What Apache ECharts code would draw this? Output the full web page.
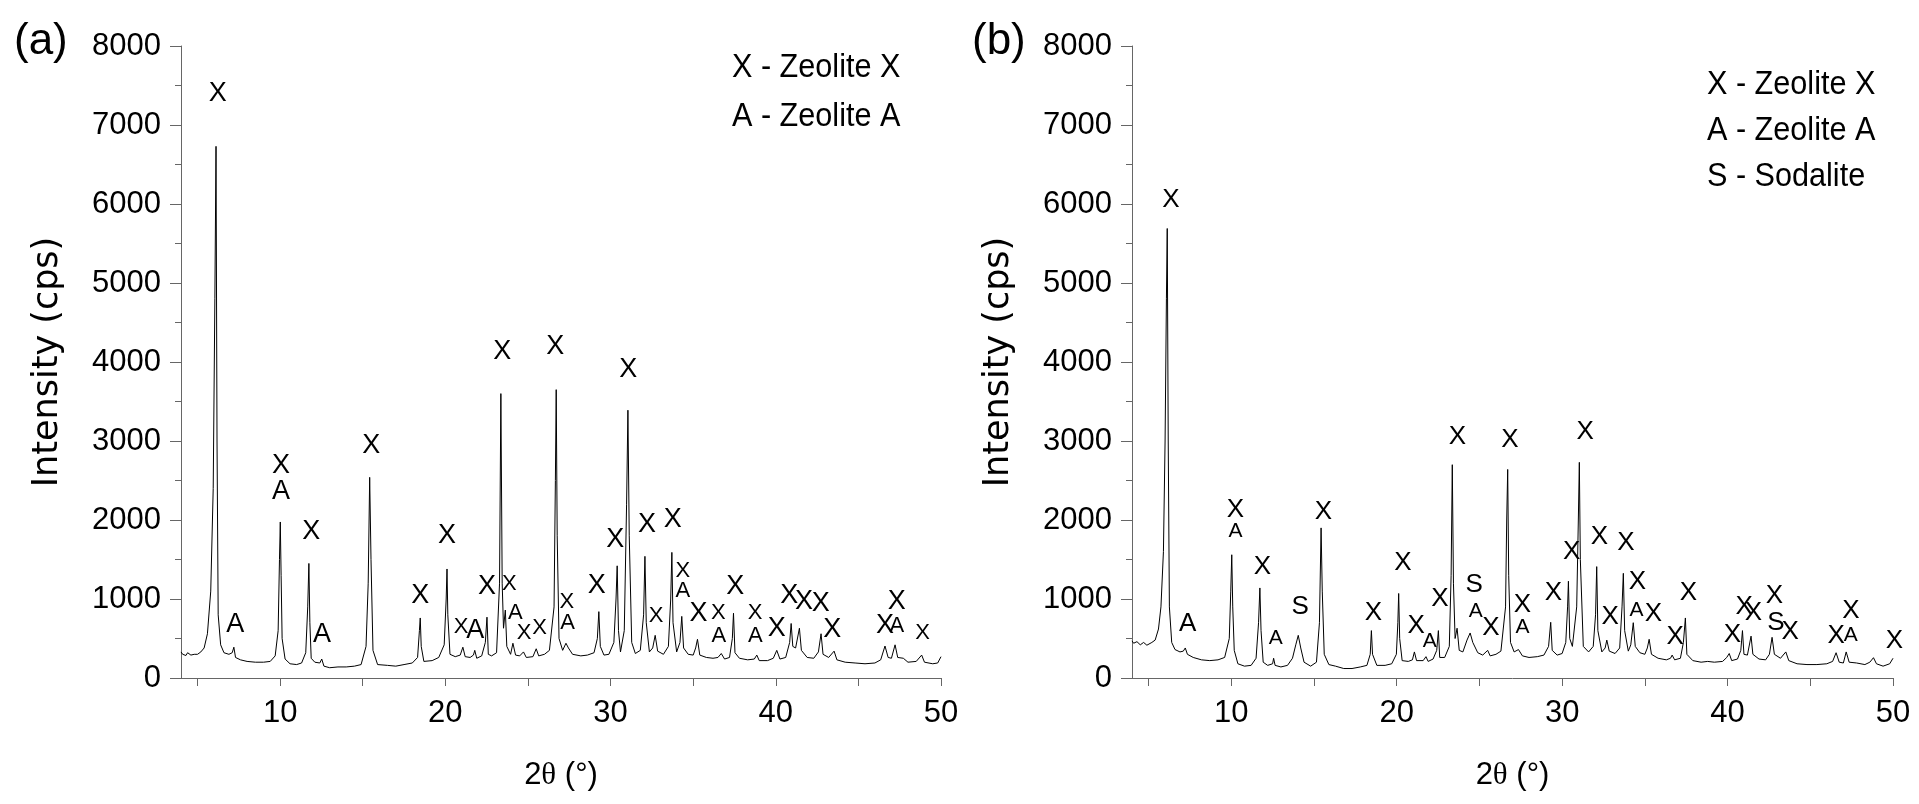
<!DOCTYPE html>
<html>
<head>
<meta charset="utf-8">
<title>XRD patterns</title>
<script src="https://cdn.jsdelivr.net/npm/echarts@6/dist/echarts.min.js"></script>
<style>
  html, body { margin: 0; padding: 0; background: #fff; }
  #chart { width: 1919px; height: 804px; }
</style>
</head>
<body>
<div id="chart"></div>
<script>
// pattern (a): [2theta, intensity]
const patternA = [
  [4.0, 330], [4.1, 300], [4.2, 310], [4.3, 285], [4.4, 320], [4.5, 295], [4.6, 290], [4.7, 315],
  [4.8, 300], [4.9, 320], [5.0, 300], [5.2, 330], [5.4, 380],
  [5.6, 560], [5.8, 1100], [5.95, 2400], [6.05, 4800], [6.12, 6730], [6.18, 3000], [6.25, 800],
  [6.4, 420], [6.6, 320], [6.9, 300], [7.1, 320], [7.2, 390], [7.3, 260], [7.6, 230], [8.0, 210],
  [8.5, 200], [9.0, 200], [9.4, 210], [9.7, 280], [9.88, 600], [9.96, 1500], [10.01, 1975],
  [10.06, 1300], [10.12, 500], [10.3, 240], [10.6, 180], [11.0, 170], [11.3, 190], [11.55, 320],
  [11.67, 900], [11.74, 1450], [11.8, 700], [11.88, 250], [12.1, 200], [12.4, 190], [12.52, 240],
  [12.65, 150], [13.0, 130], [13.5, 140], [14.0, 140], [14.5, 150], [14.9, 170], [15.2, 400],
  [15.33, 1200], [15.42, 2540], [15.5, 1500], [15.62, 350], [15.9, 170], [16.5, 160], [17.0, 150],
  [17.5, 170], [18.0, 190], [18.32, 260], [18.43, 600], [18.48, 760], [18.54, 400], [18.7, 210],
  [19.2, 220], [19.6, 260], [19.93, 420], [20.05, 1000], [20.1, 1380], [20.15, 800], [20.28, 300],
  [20.6, 270], [20.9, 290], [21.06, 390], [21.2, 270], [21.5, 260], [21.7, 290], [21.78, 350],
  [21.9, 250], [22.2, 280], [22.42, 450], [22.52, 770], [22.6, 300], [22.8, 280], [23.1, 320],
  [23.28, 1200], [23.36, 3600], [23.44, 1200], [23.52, 630], [23.63, 860], [23.72, 400],
  [23.95, 300], [24.09, 440], [24.25, 290], [24.5, 280], [24.73, 330], [24.9, 260], [25.3, 270],
  [25.5, 370], [25.65, 280], [26.0, 300], [26.3, 350], [26.58, 900], [26.66, 2500], [26.71, 3650],
  [26.77, 1800], [26.88, 500], [27.1, 350], [27.3, 440], [27.45, 380], [27.7, 300], [28.2, 280],
  [28.6, 290], [29.0, 320], [29.2, 500], [29.29, 840], [29.38, 400], [29.6, 290], [29.9, 300],
  [30.2, 450], [30.33, 1000], [30.4, 1420], [30.48, 600], [30.6, 330], [30.83, 600], [30.97, 2200],
  [31.05, 3390], [31.13, 1800], [31.28, 450], [31.5, 310], [31.8, 350], [32.0, 800], [32.08, 1540],
  [32.16, 700], [32.35, 330], [32.55, 380], [32.7, 540], [32.85, 340], [33.2, 300], [33.5, 400],
  [33.64, 1000], [33.71, 1590], [33.78, 700], [34.0, 330], [34.2, 450], [34.31, 780], [34.42, 380],
  [34.7, 300], [35.0, 290], [35.15, 380], [35.26, 490], [35.4, 290], [35.8, 260], [36.2, 250],
  [36.5, 260], [36.7, 310], [36.9, 240], [37.2, 260], [37.37, 500], [37.44, 820], [37.53, 320],
  [37.8, 250], [38.3, 230], [38.7, 240], [38.85, 290], [39.0, 220], [39.5, 220], [39.85, 250],
  [40.06, 350], [40.25, 240], [40.6, 260], [40.84, 450], [40.93, 690], [41.03, 400], [41.2, 380],
  [41.43, 630], [41.55, 350], [41.9, 260], [42.3, 250], [42.58, 330], [42.74, 560], [42.86, 300],
  [43.2, 260], [43.53, 340], [43.7, 230], [44.2, 200], [44.8, 190], [45.4, 180], [46.0, 190],
  [46.35, 230], [46.61, 405], [46.8, 260], [47.0, 250], [47.22, 420], [47.38, 260], [47.72, 250],
  [48.0, 200], [48.5, 210], [48.83, 290], [49.0, 200], [49.5, 180], [49.8, 190], [50.0, 270]
]

// pattern (b)
const patternB = [
  [4.0, 470], [4.1, 440], [4.2, 430], [4.3, 460], [4.4, 450], [4.5, 420], [4.6, 420], [4.7, 450],
  [4.8, 440], [4.9, 415], [5.0, 410], [5.2, 450], [5.4, 480],
  [5.6, 620], [5.75, 900], [5.9, 1600], [6.0, 3000], [6.08, 4800], [6.13, 5690], [6.19, 3000],
  [6.26, 900], [6.4, 450], [6.6, 360], [6.9, 330], [7.1, 340], [7.22, 380], [7.35, 300], [7.7, 260],
  [8.2, 230], [8.7, 220], [9.2, 230], [9.6, 260], [9.88, 500], [9.97, 1100], [10.03, 1560],
  [10.09, 900], [10.18, 350], [10.4, 180], [10.8, 150], [11.2, 160], [11.5, 250], [11.65, 700],
  [11.73, 1140], [11.8, 600], [11.93, 200], [12.2, 160], [12.5, 180], [12.56, 250], [12.65, 160],
  [13.0, 140], [13.4, 160], [13.7, 250], [13.9, 420], [14.05, 540], [14.2, 380], [14.4, 200],
  [14.8, 150], [15.15, 200], [15.33, 700], [15.43, 1900], [15.5, 1100], [15.62, 300], [15.9, 170],
  [16.3, 150], [16.8, 120], [17.3, 120], [17.8, 140], [18.2, 160], [18.4, 300], [18.47, 600],
  [18.54, 300], [18.8, 160], [19.3, 160], [19.7, 180], [19.98, 300], [20.07, 700], [20.12, 1070],
  [20.18, 500], [20.33, 220], [20.7, 210], [20.95, 230], [21.07, 330], [21.2, 220], [21.6, 220],
  [21.77, 270], [21.9, 210], [22.2, 240], [22.42, 350], [22.52, 600], [22.6, 260], [22.9, 260],
  [23.18, 400], [23.29, 1300], [23.36, 2700], [23.43, 1200], [23.53, 500], [23.65, 630],
  [23.78, 350], [24.0, 330], [24.25, 480], [24.44, 570], [24.6, 450], [24.9, 320], [25.2, 290],
  [25.5, 350], [25.65, 280], [26.0, 300], [26.3, 340], [26.58, 900], [26.65, 2000], [26.71, 2640],
  [26.77, 1300], [26.88, 450], [27.1, 330], [27.36, 360], [27.6, 280], [28.0, 260], [28.5, 270],
  [28.9, 290], [29.18, 400], [29.31, 705], [29.4, 350], [29.7, 290], [30.0, 310], [30.22, 450],
  [30.33, 900], [30.38, 1225], [30.46, 500], [30.62, 400], [30.88, 900], [30.98, 2000],
  [31.04, 2730], [31.1, 1500], [31.28, 400], [31.6, 330], [31.88, 400], [32.02, 800], [32.09, 1410],
  [32.16, 600], [32.4, 330], [32.6, 380], [32.7, 480], [32.85, 340], [33.2, 310], [33.48, 380],
  [33.62, 900], [33.7, 1325], [33.78, 600], [34.0, 340], [34.15, 420], [34.3, 700], [34.42, 400],
  [34.7, 320], [35.0, 300], [35.15, 380], [35.26, 490], [35.4, 300], [35.8, 250], [36.3, 230],
  [36.55, 250], [36.65, 290], [36.8, 230], [37.15, 250], [37.33, 450], [37.45, 760], [37.54, 300],
  [37.9, 220], [38.4, 200], [38.8, 210], [39.2, 200], [39.7, 210], [39.95, 260], [40.1, 310],
  [40.25, 220], [40.6, 240], [40.8, 350], [40.9, 600], [40.99, 300], [41.2, 290], [41.42, 530],
  [41.53, 300], [41.9, 240], [42.3, 230], [42.53, 300], [42.69, 515], [42.83, 300], [43.2, 250],
  [43.52, 330], [43.7, 220], [44.2, 180], [44.8, 170], [45.4, 170], [46.0, 180], [46.35, 210],
  [46.56, 320], [46.75, 200], [47.0, 190], [47.17, 330], [47.35, 200], [47.8, 190], [48.3, 170],
  [48.6, 200], [48.82, 257], [49.0, 180], [49.4, 150], [49.8, 180], [50.0, 250]
]

// phase marks: [2theta, intensity, text]
const marksA = [
  [6.23, 7400, 'X'], [7.29, 671, 'A'], [10.06, 2684, 'X'], [10.06, 2359, 'A'], [11.89, 1852, 'X'],
  [12.53, 544, 'A'], [15.52, 2937, 'X'], [18.48, 1038, 'X'], [20.1, 1797, 'X'], [21.81, 599, 'A'],
  [22.52, 1156, 'X'], [23.45, 4130, 'X'], [26.65, 4190, 'X'], [29.17, 1165, 'X'], [30.28, 1755, 'X'],
  [31.07, 3899, 'X'], [32.2, 1937, 'X'], [33.77, 2000, 'X'], [35.32, 819, 'X'], [37.54, 1156, 'X'],
  [40.06, 629, 'X'], [40.82, 1038, 'X'], [41.71, 966, 'X'], [42.72, 937, 'X'], [43.42, 616, 'X'],
  [46.61, 658, 'X'], [47.32, 966, 'X']
]
const smallMarksA = [
  [20.96, 650, 'X'], [23.88, 1190, 'X'], [24.23, 819, 'A'], [24.77, 565, 'X'], [25.7, 629, 'X'],
  [27.36, 966, 'X'], [27.4, 692, 'A'], [32.76, 785, 'X'], [34.38, 1358, 'X'], [34.38, 1101, 'A'],
  [36.53, 819, 'X'], [36.55, 532, 'A'], [38.75, 819, 'X'], [38.77, 532, 'A'], [47.32, 658, 'A'],
  [48.89, 565, 'X']
]
const marksB = [
  [6.36, 6050, 'X'], [7.37, 692, 'A'], [10.25, 2127, 'X'], [11.88, 1409, 'X'], [14.16, 903, 'S'],
  [15.57, 2105, 'X'], [18.6, 819, 'X'], [20.37, 1452, 'X'], [21.17, 658, 'X'], [22.62, 1008, 'X'],
  [23.67, 3054, 'X'], [24.68, 1177, 'S'], [25.7, 629, 'X'], [26.85, 3013, 'X'], [27.6, 924, 'X'],
  [29.47, 1072, 'X'], [30.58, 1599, 'X'], [31.39, 3118, 'X'], [32.25, 1789, 'X'], [32.9, 768, 'X'],
  [33.85, 1705, 'X'], [34.55, 1219, 'X'], [35.52, 806, 'X'], [36.83, 515, 'X'], [37.63, 1072, 'X'],
  [40.29, 544, 'X'], [41.0, 903, 'X'], [41.56, 819, 'X'], [42.83, 1038, 'X'], [42.92, 700, 'S'],
  [43.78, 586, 'X'], [46.56, 532, 'X'], [47.45, 854, 'X'], [50.09, 472, 'X']
]
const smallMarksB = [
  [10.25, 1852, 'A'], [12.69, 502, 'A'], [22.0, 460, 'A'], [24.78, 840, 'A'], [27.6, 637, 'A'],
  [34.5, 860, 'A'], [47.45, 544, 'A']
]

const legendA = ['X - Zeolite X', 'A - Zeolite A']
const legendB = ['X - Zeolite X', 'A - Zeolite A', 'S - Sodalite']
const xTicks = [5, 10, 15, 20, 25, 30, 35, 40, 45, 50]
const xLabels = [10, 20, 30, 40, 50]

const chart = echarts.init(document.getElementById('chart'))

const font = '"Liberation Sans", Arial, sans-serif'
const axisGrey = '#666'

const makeX = (gi) => ({
  gridIndex: gi,
  type: 'value',
  min: 4,
  max: 50,
  name: '2{t|θ} (°)',
  nameLocation: 'middle',
  nameGap: 82,
  nameTextStyle: {
    fontFamily: font, fontSize: 31, color: '#000',
    rich: { t: { fontFamily: '"Liberation Serif", serif', fontSize: 31, color: '#000' } }
  },
  axisLine: { show: true, onZero: false, lineStyle: { color: axisGrey, width: 1 } },
  axisTick: { show: true, customValues: xTicks, length: 8, lineStyle: { color: axisGrey } },
  axisLabel: { customValues: xLabels, fontFamily: font, fontSize: 31, color: '#000', margin: 20 },
  splitLine: { show: false }
})

const makeY = (gi) => ({
  gridIndex: gi,
  type: 'value',
  min: 0,
  max: 8000,
  interval: 1000,
  name: 'Intensity (cps)',
  nameLocation: 'middle',
  nameRotate: 90,
  nameGap: 116,
  nameTextStyle: { fontFamily: '"DejaVu Sans", sans-serif', fontSize: 35, color: '#000' },
  axisLine: { show: true, lineStyle: { color: axisGrey, width: 1 } },
  axisTick: { show: true, length: 11, lineStyle: { color: axisGrey } },
  minorTick: { show: true, splitNumber: 2, length: 6, lineStyle: { color: axisGrey } },
  axisLabel: {
    fontFamily: font, fontSize: 31, color: '#000', margin: 20,
    formatter: (v) => String(v)
  },
  splitLine: { show: false }
})

const lineSeries = (idx, data) => ({
  type: 'line',
  xAxisIndex: idx,
  yAxisIndex: idx,
  data: data,
  showSymbol: false,
  lineStyle: { color: '#000', width: 1 },
  silent: true
})

const markSeries = (idx, data, size) => ({
  type: 'scatter',
  xAxisIndex: idx,
  yAxisIndex: idx,
  data: data,
  symbolSize: 0,
  clip: false,
  itemStyle: { color: 'rgba(0,0,0,0)' },
  label: {
    show: true,
    position: 'inside',
    formatter: (p) => p.value[2],
    fontFamily: font,
    fontSize: size,
    color: '#000',
    opacity: 1
  },
  labelLayout: { hideOverlap: false },
  silent: true
})

const legendText = (x, y0, gap, lines) => lines.map((t, i) => ({
  type: 'text',
  x: x,
  y: y0 + i * gap,
  scaleX: 0.9,
  style: { text: t, font: '34px ' + font, fill: '#000', textVerticalAlign: 'middle' }
}))

const option = {
  backgroundColor: '#fff',
  animation: false,
  grid: [
    { left: 181, top: 46, width: 760, height: 632 },
    { left: 1132, top: 46, width: 761, height: 632 }
  ],
  xAxis: [makeX(0), makeX(1)],
  yAxis: [makeY(0), makeY(1)],
  series: [
    lineSeries(0, patternA),
    lineSeries(1, patternB),
    markSeries(0, marksA, 27),
    markSeries(0, smallMarksA, 22),
    markSeries(1, marksB, 26),
    markSeries(1, smallMarksB, 21)
  ],
  graphic: [
    { type: 'text', x: 14, y: 42, style: { text: '(a)', font: '44px ' + font, fill: '#000', textVerticalAlign: 'middle' } },
    { type: 'text', x: 972, y: 42, style: { text: '(b)', font: '44px ' + font, fill: '#000', textVerticalAlign: 'middle' } },
    ...legendText(732, 68, 49, legendA),
    ...legendText(1707, 85, 46, legendB)
  ]
}

chart.setOption(option)
</script>
</body>
</html>
